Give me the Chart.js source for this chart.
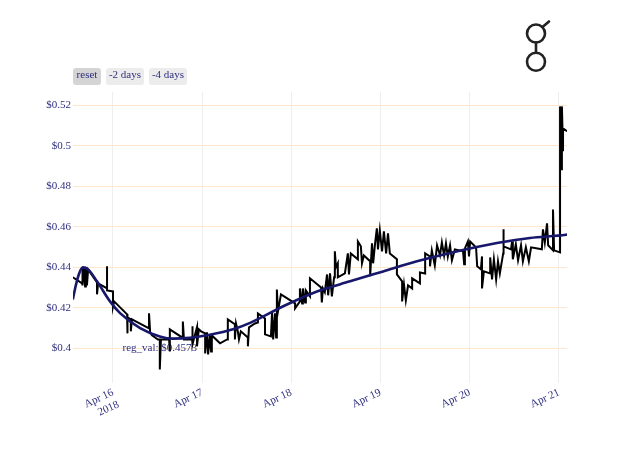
<!DOCTYPE html>
<html><head><meta charset="utf-8">
<script src="https://cdn.jsdelivr.net/npm/chart.js@4.4.0/dist/chart.umd.min.js"></script>
<style>
html,body{margin:0;padding:0;background:#fff;}
#wrap{position:relative;width:640px;height:457px;overflow:hidden;background:#fff;}
#c{position:absolute;left:0;top:0;}
.btn{position:absolute;top:68px;height:17px;line-height:19px;font:11px "Liberation Serif",serif;color:#2f2f7f;background:#ececec;border-radius:3px;text-align:center;}
</style></head><body>
<div id="wrap">
<canvas id="c" width="640" height="457"></canvas>
<div class="btn" style="left:73px;width:28px;background:#d4d4d4">reset</div>
<div class="btn" style="left:106px;width:38px">-2 days</div>
<div class="btn" style="left:149px;width:38px">-4 days</div>
<svg style="position:absolute;left:520px;top:14px" width="40" height="62" viewBox="0 0 40 62">
<g fill="none" stroke="#222" stroke-width="2.6" stroke-linecap="round">
<circle cx="16" cy="19.5" r="9"/>
<circle cx="16" cy="47.7" r="9"/>
<line x1="16" y1="28.5" x2="16" y2="38.7"/>
<line x1="22.5" y1="13" x2="29" y2="7.5"/>
</g></svg>
</div>
<script>
// hours since 2018-04-16 00:00
const priceHours = [-10.8,-8.3,-8.3,-8.1,-7.8,-7.5,-7.3,-7.0,-6.7,-4.3,-4.3,-4.0,-1.6,-1.6,-1.6,0,0,0.3,3.8,3.8,4.0,4.8,4.8,5.1,9.7,9.7,10.0,10.5,12.1,12.6,12.6,12.9,15.1,15.3,15.3,18.6,18.8,19.1,21.3,21.3,21.5,22.6,22.6,23.1,
23.7,24.8,24.8,25.3,25.6,26.1,26.4,26.6,28.8,30.7,30.9,32.8,32.8,33.1,33.6,33.9,34.4,36.3,36.3,36.6,38.2,39.0,39.0,40.9,40.9,42.5,42.8,43.1,43.6,43.9,44.1,44.4,45.2,49.0,49.0,50.3,50.3,50.9,51.1,51.7,51.9,53.0,53.0,56.0,56.2,56.5,
57.0,57.6,57.9,58.4,58.9,59.5,59.7,60.0,60.5,60.5,62.4,63.2,63.5,64.0,65.9,65.9,66.7,67.0,67.5,69.2,69.2,69.7,70.0,70.5,71.0,71.3,71.8,72.4,72.9,73.5,74.0,74.5,76.4,76.4,77.8,77.8,78.3,78.8,79.4,80.5,80.5,82.6,82.6,84.0,84.0,85.3,85.3,85.8,86.6,87.2,88.0,88.5,89.1,89.6,90.1,
90.7,91.2,92.0,94.2,94.5,94.7,95.5,95.8,96.1,97.7,98.0,99.0,99.3,99.3,99.8,101.5,101.5,102.0,102.5,103.1,103.6,104.1,105.0,105.0,105.2,107.1,107.4,107.6,108.4,109.0,109.8,110.3,111.1,111.9,112.5,115.4,115.7,116.2,116.8,117.1,118.4,118.4,118.7,120.3,120.3,120.6,120.8,121.1,121.1,122.2];
const priceValues = [0.4351,0.4321,0.4395,0.4311,0.4400,0.4306,0.4400,0.4311,0.4390,0.4326,0.4267,0.4321,0.4296,0.4405,0.4286,0.4281,0.4207,0.4232,0.4168,0.4074,0.4153,0.4143,0.4084,0.4143,0.4099,0.4173,0.4079,0.4064,0.4044,0.4044,0.3896,0.4044,0.4044,0.3985,0.4094,0.4054,0.4133,0.4044,0.4044,0.4109,0.4020,0.4104,0.4010,0.4094,
0.4084,0.4074,0.3975,0.4079,0.3970,0.4069,0.3985,0.4064,0.4025,0.4044,0.4143,0.4119,0.4044,0.4123,0.4084,0.4044,0.4084,0.4054,0.4010,0.4104,0.4123,0.4128,0.4173,0.4148,0.4069,0.4059,0.4178,0.4044,0.4173,0.4054,0.4291,0.4183,0.4267,0.4222,0.4198,0.4232,0.4296,0.4222,0.4296,0.4227,0.4286,0.4257,0.4346,0.4301,0.4227,0.4296,
0.4277,0.4365,0.4262,0.4370,0.4257,0.4351,0.4479,0.4400,0.4420,0.4351,0.4370,0.4469,0.4365,0.4469,0.4440,0.4528,0.4504,0.4420,0.4459,0.4430,0.4356,0.4519,0.4420,0.4514,0.4593,0.4489,0.4583,0.4479,0.4578,0.4469,0.4568,0.4469,0.4440,0.4365,0.4331,0.4232,0.4316,0.4237,0.4311,0.4296,0.4346,0.4321,0.4375,0.4370,0.4469,0.4454,0.4405,0.4484,0.4410,0.4509,0.4459,0.4523,0.4459,0.4519,0.4454,
0.4509,0.4435,0.4489,0.4479,0.4415,0.4494,0.4528,0.4454,0.4528,0.4499,0.4405,0.4390,0.4454,0.4296,0.4380,0.4370,0.4449,0.4341,0.4440,0.4341,0.4430,0.4370,0.4469,0.4588,0.4504,0.4489,0.4528,0.4440,0.4514,0.4435,0.4509,0.4430,0.4499,0.4430,0.4499,0.4489,0.4588,0.4523,0.4617,0.4509,0.4484,0.4686,0.4484,0.4474,0.5195,0.4884,0.5195,0.4973,0.5086,0.5072];
const regHours = [-10.8,-10.0,-9.1,-8.1,-6.7,-4.3,-0.8,1.9,7.3,12.6,16.1,20.7,26.1,32.3,36.9,45.7,54.9,63.8,72.7,81.8,90.7,103.3,112.2,121.9,122.2];
const regValues = [0.4242,0.4311,0.4370,0.4400,0.4390,0.4331,0.4232,0.4174,0.4100,0.4059,0.4048,0.4052,0.4067,0.4094,0.4126,0.4207,0.4281,0.4331,0.4380,0.4430,0.4471,0.4520,0.4545,0.4561,0.4562];
const xTickHours = [0,24,48,72,96,120];
const xTickLabels = [["Apr 16","2018"],"Apr 17","Apr 18","Apr 19","Apr 20","Apr 21"];
const yTickValues = [0.40,0.42,0.44,0.46,0.48,0.50,0.52];
const xRange = [-10.76,122.17];
const yRange = [0.3829,0.5266];
const regLabel = "reg_val: $0.4573";
const regLabelAt = [12.6,0.40];

const FONT = '"Liberation Serif", "Times New Roman", serif';
const TXT = '#2f2f7f';

const annot = {
  id:'annot',
  beforeDatasetsDraw(chart){
    const {ctx,scales:{x,y}} = chart;
    ctx.save();
    ctx.font = '11px ' + FONT;
    ctx.fillStyle = TXT;
    ctx.textAlign = 'center';
    ctx.textBaseline = 'middle';
    ctx.fillText(regLabel, x.getPixelForValue(regLabelAt[0]), y.getPixelForValue(regLabelAt[1]));
    ctx.restore();
  }
};

new Chart(document.getElementById('c'), {
  type:'line',
  data:{datasets:[
    {label:'reg', data: regHours.map((h,i)=>({x:h,y:regValues[i]})), borderColor:'#17176b', borderWidth:2.6, pointRadius:0, cubicInterpolationMode:'monotone', order:0, fill:false},
    {label:'price', data: priceHours.map((h,i)=>({x:h,y:priceValues[i]})), borderColor:'#000', borderWidth:2, pointRadius:0, tension:0, order:1, fill:false, borderJoinStyle:'miter'}
  ]},
  options:{
    responsive:false, animation:false,
    layout:{padding:{top:92,right:73,left:0,bottom:0}},
    plugins:{legend:{display:false},tooltip:{enabled:false}},
    scales:{
      x:{type:'linear', min:xRange[0], max:xRange[1],
        afterBuildTicks(s){ s.ticks = xTickHours.map(v=>({value:v})); },
        afterFit(s){ s.height = 74; },
        ticks:{minRotation:25,maxRotation:25,padding:3,color:TXT,font:{family:FONT,size:11},
          callback(v){ const i = xTickHours.indexOf(v); return i>=0 ? xTickLabels[i] : ''; }},
        grid:{color:'#eeeeee',lineWidth:1,drawTicks:false},
        border:{display:false}
      },
      y:{type:'linear', min:yRange[0], max:yRange[1],
        afterBuildTicks(s){ s.ticks = yTickValues.map(v=>({value:v})); },
        afterFit(s){ s.width = 73; },
        ticks:{padding:2,color:TXT,font:{family:FONT,size:11},
          callback(v){ return '$' + Number(v.toFixed(2)); }},
        grid:{color:'#ffe6cc',lineWidth:1,drawTicks:false},
        border:{display:false}
      }
    }
  },
  plugins:[annot]
});
</script>
</body></html>
